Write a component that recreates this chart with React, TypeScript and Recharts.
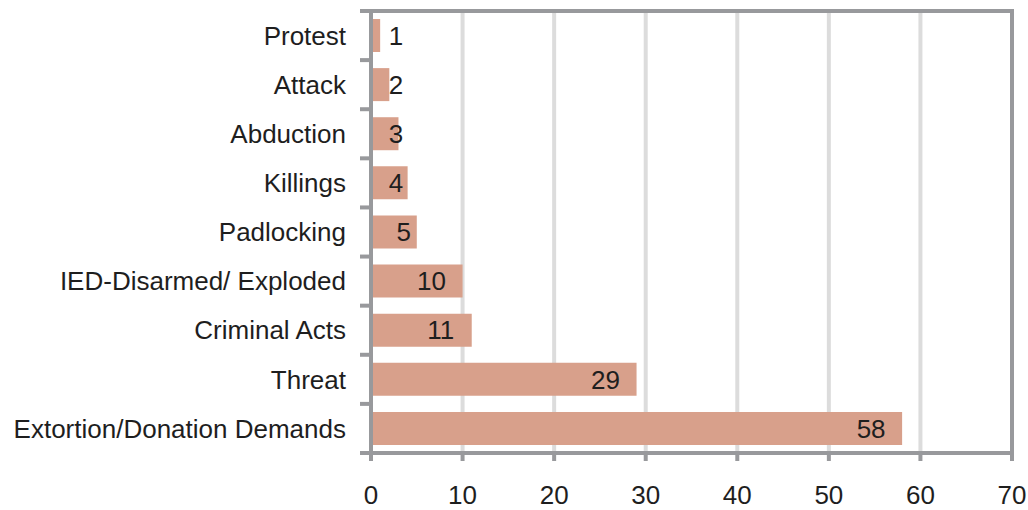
import React from "react";
import { BarChart, Bar, XAxis, YAxis, CartesianGrid, ReferenceLine, LabelList } from "recharts";

const categories = [
  "Protest",
  "Attack",
  "Abduction",
  "Killings",
  "Padlocking",
  "IED-Disarmed/ Exploded",
  "Criminal Acts",
  "Threat",
  "Extortion/Donation Demands",
];
const incidents = [1, 2, 3, 4, 5, 10, 11, 29, 58];
const xTicks = [0, 10, 20, 30, 40, 50, 60, 70];

const data = categories.map((name, i) => ({ name, value: incidents[i] }));

const W = 1028;
const H = 510;
const M = { top: 11, right: 16, bottom: 0, left: 0 };
const X_AXIS_H = 57;
const Y_AXIS_W = 371;
const PLOT_H = H - M.top - M.bottom - X_AXIS_H;
const BAND = PLOT_H / categories.length;

const AXIS = "#98999c";
const GRID = "#dcdcdc";
const BAR = "#d8a08b";
const TEXT = "#1e1e1e";
const FONT = "'Liberation Sans', Arial, sans-serif";

const YTick = (props: any) => {
  const { y, payload, index } = props;
  const ax = Y_AXIS_W + M.left;
  return (
    <g>
      <text
        x={ax - 25}
        y={y}
        dy="0.355em"
        textAnchor="end"
        fontFamily={FONT}
        fontSize={26}
        fill={TEXT}
      >
        {payload.value}
      </text>
      <line x1={ax - 11} x2={ax} y1={y + BAND / 2} y2={y + BAND / 2} stroke={AXIS} strokeWidth={4} />
      {index === 0 ? (
        <line
          x1={ax - 11}
          x2={W - M.right + 2}
          y1={y - BAND / 2}
          y2={y - BAND / 2}
          stroke={AXIS}
          strokeWidth={4}
        />
      ) : null}
    </g>
  );
};

const BarLabel = (props: any) => {
  const { x, y, width, height, value } = props;
  const end = x + width;
  const cx = value >= 10 ? end - 31 : Math.max(x + 25, end - 13);
  return (
    <text
      x={cx}
      y={y + height / 2}
      dy="0.355em"
      textAnchor="middle"
      fontFamily={FONT}
      fontSize={26}
      fill={TEXT}
    >
      {value}
    </text>
  );
};

export default function App() {
  return (
    <div style={{ position: "absolute", left: 0, top: 0, background: "#fff" }}>
      <BarChart width={W} height={H} data={data} layout="vertical" margin={M}>
        <CartesianGrid horizontal={false} vertical stroke={GRID} strokeWidth={4} />
        <XAxis
          type="number"
          domain={[0, 70]}
          ticks={xTicks}
          interval={0}
          height={X_AXIS_H}
          axisLine={{ stroke: AXIS, strokeWidth: 4 }}
          tickLine={{ stroke: AXIS, strokeWidth: 4 }}
          tickSize={8}
          tickMargin={25}
          tick={{ fontFamily: FONT, fontSize: 26, fill: TEXT }}
        />
        <YAxis
          type="category"
          dataKey="name"
          width={Y_AXIS_W}
          interval={0}
          axisLine={{ stroke: AXIS, strokeWidth: 4 }}
          tickLine={false}
          tick={<YTick />}
        />
        <ReferenceLine x={70} stroke={AXIS} strokeWidth={4} />
        <Bar dataKey="value" fill={BAR} barSize={33} isAnimationActive={false}>
          <LabelList dataKey="value" content={<BarLabel />} />
        </Bar>
      </BarChart>
    </div>
  );
}
